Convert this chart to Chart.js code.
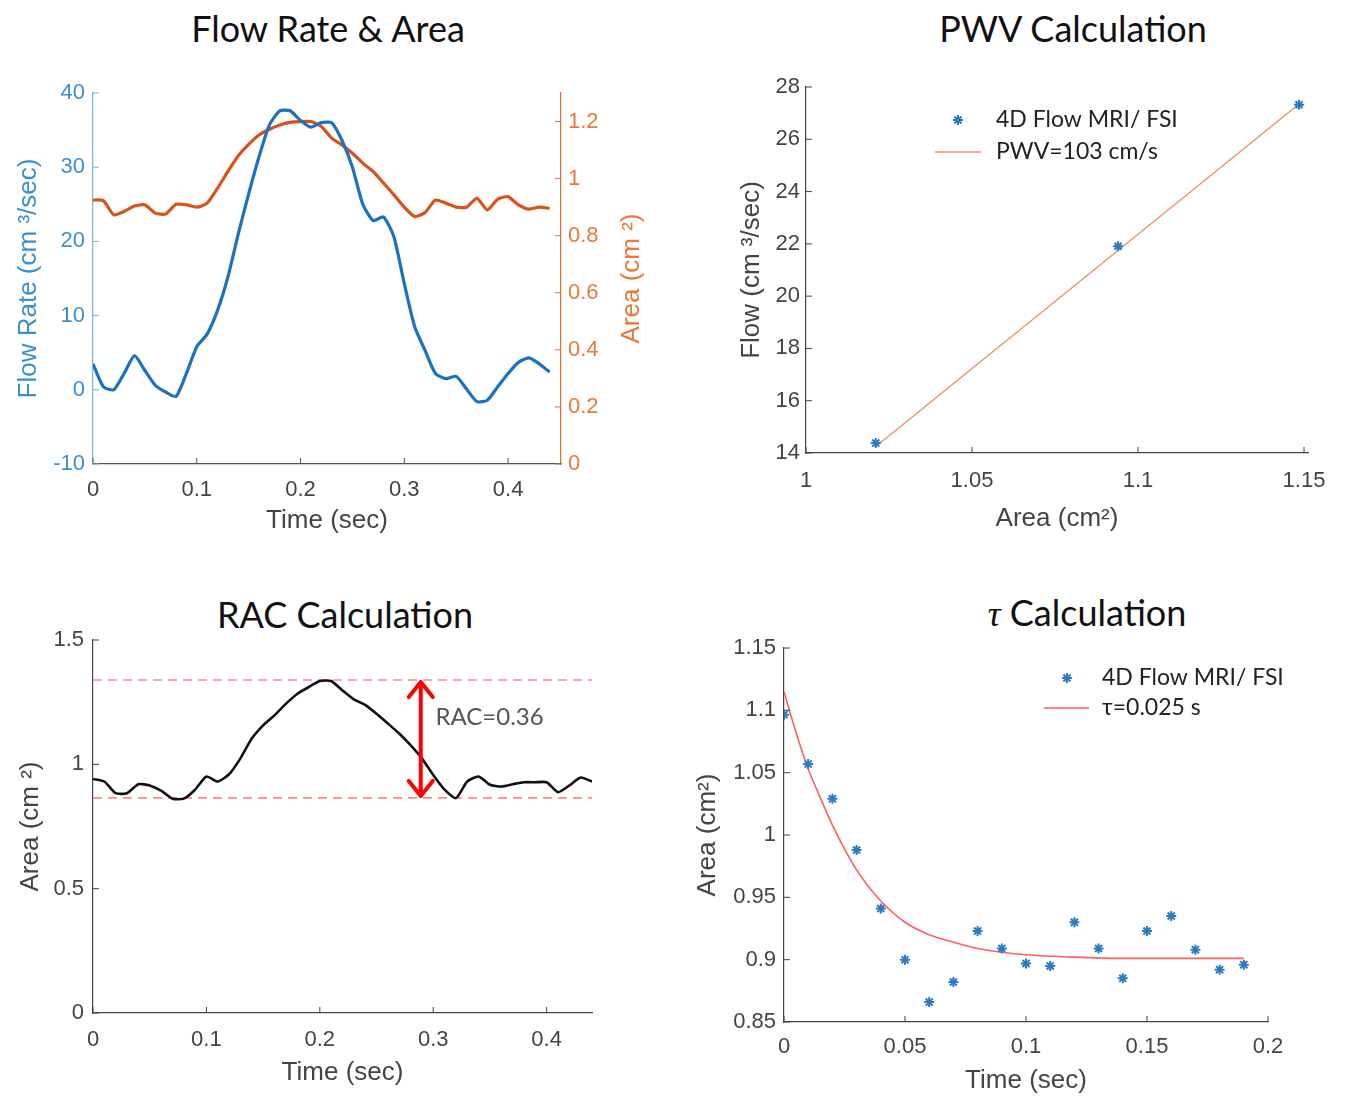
<!DOCTYPE html>
<html>
<head>
<meta charset="utf-8">
<script src="https://cdn.jsdelivr.net/npm/chart.js@4.4.1/dist/chart.umd.min.js"></script>
<style>
  body { margin: 0; background: #fff; width: 1349px; height: 1100px; position: relative; overflow: hidden; }
  canvas { position: absolute; }
  .title { position: absolute; font-family: Lato, sans-serif; font-size: 36px; color: #111; transform: translate(-50%, -50%); white-space: nowrap; }
  .tau { font-family: "Liberation Serif", serif; font-style: italic; }
</style>
</head>
<body>
<div class="title" style="left:328px;top:28px">Flow Rate &amp; Area</div>
<div class="title" style="left:1073px;top:28px">PWV Calculation</div>
<div class="title" style="left:345px;top:614px">RAC Calculation</div>
<div class="title" style="left:1087px;top:612px"><span class="tau">τ</span> Calculation</div>

<canvas id="flow" width="680" height="500" style="left:0;top:60px"></canvas>
<canvas id="pwv" width="669" height="500" style="left:680px;top:60px"></canvas>
<canvas id="rac" width="680" height="500" style="left:0;top:600px"></canvas>
<canvas id="tau" width="669" height="500" style="left:680px;top:600px"></canvas>

<script>
// time base for the flow / area waveforms (sec)
const waveTime = [0, 0.01, 0.02, 0.03, 0.04, 0.05, 0.06, 0.07, 0.08, 0.09,
  0.10, 0.11, 0.12, 0.13, 0.14, 0.15, 0.16, 0.17, 0.18, 0.19,
  0.20, 0.21, 0.22, 0.23, 0.24, 0.25, 0.26, 0.27, 0.28, 0.29,
  0.30, 0.31, 0.32, 0.33, 0.34, 0.35, 0.36, 0.37, 0.38, 0.39,
  0.40, 0.41, 0.42, 0.43, 0.44];

// flow rate (cm^3/sec)
const flowRate = [3.5, 0.4, 0, 2.2, 4.6, 2.6, 0.6, -0.3, -0.9, 2.2,
  5.8, 7.5, 10.7, 15.2, 21, 26.4, 31.4, 35.7, 37.6, 37.6,
  36.3, 35.4, 36, 36, 33.6, 30, 25, 22.8, 23.3, 20.6,
  14.3, 8.5, 5.3, 2.2, 1.5, 1.8, 0.1, -1.6, -1.4, 0.4,
  2.2, 3.7, 4.3, 3.5, 2.4];

// area (cm^2), top-left panel
const flowArea = [0.925, 0.923, 0.873, 0.885, 0.904, 0.908, 0.879, 0.876, 0.91, 0.908,
  0.90, 0.914, 0.966, 1.025, 1.08, 1.12, 1.153, 1.173, 1.188, 1.197,
  1.2, 1.2, 1.183, 1.142, 1.118, 1.089, 1.054, 1.025, 0.984, 0.943,
  0.90, 0.867, 0.881, 0.925, 0.914, 0.90, 0.90, 0.931, 0.89, 0.928,
  0.937, 0.908, 0.893, 0.90, 0.896];

// PWV panel
const pwvArea = [1.021, 1.094, 1.1485];
const pwvFlow = [14.38, 21.91, 27.32];
const pwvFitArea = [1.021, 1.1485];
const pwvFitFlow = [14.25, 27.35];

// RAC panel
const racArea = [0.941, 0.931, 0.884, 0.884, 0.92, 0.915, 0.894, 0.862, 0.862, 0.898,
  0.951, 0.931, 0.96, 1.024, 1.104, 1.157, 1.197, 1.243, 1.283, 1.31,
  1.335, 1.335, 1.297, 1.261, 1.239, 1.203, 1.164, 1.124, 1.077, 1.024,
  0.957, 0.898, 0.864, 0.931, 0.951, 0.918, 0.911, 0.92, 0.928, 0.928,
  0.928, 0.888, 0.915, 0.947, 0.931];
const racMax = 1.339;
const racMin = 0.865;
const racLevelTime = [0, 0.44];

// tau panel
const tauTime = [0, 0.01, 0.02, 0.03, 0.04, 0.05, 0.06, 0.07, 0.08, 0.09,
  0.10, 0.11, 0.12, 0.13, 0.14, 0.15, 0.16, 0.17, 0.18, 0.19];
const tauArea = [1.0965, 1.057, 1.029, 0.988, 0.941, 0.90, 0.866, 0.882, 0.923, 0.909,
  0.897, 0.895, 0.930, 0.909, 0.885, 0.923, 0.935, 0.908, 0.892, 0.896];
const tauFitTime = [0, 0.005, 0.01, 0.015, 0.02, 0.03, 0.04, 0.05, 0.06, 0.07,
  0.08, 0.09, 0.10, 0.12, 0.14, 0.16, 0.19];
const tauFitArea = [1.115, 1.082, 1.053, 1.03, 1.008, 0.972, 0.947, 0.930, 0.920, 0.914,
  0.909, 0.906, 0.904, 0.902, 0.901, 0.901, 0.901];

const xy = (xs, ys) => xs.map((x, i) => ({ x: x, y: ys[i] }));
const fmt = v => String(Math.round(v * 1000) / 1000);

const TICK_FONT = { family: 'Liberation Sans, Arial, sans-serif', size: 22 };
const TITLE_FONT = { family: 'Liberation Sans, Arial, sans-serif', size: 26 };
const GRAY = '#444';

Chart.defaults.animation = false;
Chart.defaults.plugins.legend.display = false;
Chart.defaults.plugins.tooltip.enabled = false;

// matlab style ticks pointing into the plot
const innerTicks = {
  id: 'innerTicks',
  afterDatasetsDraw(chart) {
    const ctx = chart.ctx, a = chart.chartArea;
    ctx.save();
    ctx.lineWidth = 1;
    Object.values(chart.scales).forEach(s => {
      ctx.strokeStyle = s.options.border.color || GRAY;
      s.ticks.forEach(t => {
        const p = s.getPixelForValue(t.value);
        ctx.beginPath();
        if (s.position === 'bottom') { ctx.moveTo(p, a.bottom); ctx.lineTo(p, a.bottom - 6); }
        else if (s.position === 'left') { ctx.moveTo(a.left, p); ctx.lineTo(a.left + 6, p); }
        else { ctx.moveTo(a.right, p); ctx.lineTo(a.right - 6, p); }
        ctx.stroke();
      });
    });
    ctx.restore();
  }
};

// right axis title reads bottom-to-top like matlab
const rightTitle = {
  id: 'rightTitle',
  afterDraw(chart, args, o) {
    const ctx = chart.ctx, a = chart.chartArea;
    ctx.save();
    ctx.translate(o.x, (a.top + a.bottom) / 2);
    ctx.rotate(-Math.PI / 2);
    ctx.font = TITLE_FONT.size + 'px ' + TITLE_FONT.family;
    ctx.fillStyle = o.color;
    ctx.textAlign = 'center';
    ctx.textBaseline = 'middle';
    ctx.fillText(o.text, 0, 0);
    ctx.restore();
  }
};

// small legend drawn inside the axes
const boxLegend = {
  id: 'boxLegend',
  afterDraw(chart, args, o) {
    if (!o.items) return;
    const ctx = chart.ctx;
    ctx.save();
    o.items.forEach(it => {
      const ds = chart.data.datasets[it.ds];
      ctx.strokeStyle = ds.borderColor;
      if (it.star) {
        ctx.lineWidth = 2;
        Chart.helpers.drawPoint(ctx, { pointStyle: 'star', radius: 5, rotation: 0, borderWidth: 2 }, it.mx, it.y);
      } else {
        ctx.lineWidth = 1.5;
        ctx.beginPath();
        ctx.moveTo(it.x0, it.y);
        ctx.lineTo(it.x1, it.y);
        ctx.stroke();
      }
      ctx.font = '23px Lato, sans-serif';
      ctx.fillStyle = '#222';
      ctx.textBaseline = 'middle';
      ctx.fillText(ds.label, o.textX, it.y);
    });
    ctx.restore();
  }
};

// double arrow and label for RAC
const racArrow = {
  id: 'racArrow',
  afterDatasetsDraw(chart, args, o) {
    if (o.at === undefined) return;
    const xs = chart.scales.x, ys = chart.scales.y, ctx = chart.ctx;
    const px = xs.getPixelForValue(o.at);
    const top = ys.getPixelForValue(racMax), bot = ys.getPixelForValue(racMin);
    ctx.save();
    ctx.strokeStyle = '#ff0000';
    ctx.lineWidth = 4;
    ctx.lineCap = 'round';
    ctx.lineJoin = 'round';
    ctx.beginPath();
    ctx.moveTo(px, top + 2); ctx.lineTo(px, bot - 2);
    ctx.moveTo(px - 12, top + 17); ctx.lineTo(px, top + 2); ctx.lineTo(px + 12, top + 17);
    ctx.moveTo(px - 12, bot - 17); ctx.lineTo(px, bot - 2); ctx.lineTo(px + 12, bot - 17);
    ctx.stroke();
    ctx.font = '24px Lato, sans-serif';
    ctx.fillStyle = '#555';
    ctx.textBaseline = 'middle';
    ctx.fillText(o.text, xs.getPixelForValue(o.textAt[0]), ys.getPixelForValue(o.textAt[1]));
    ctx.restore();
  }
};

function axis(opts) {
  return {
    type: 'linear',
    position: opts.position,
    min: opts.min,
    max: opts.max,
    afterFit: s => { if (opts.width) s.width = opts.width; if (opts.height) s.height = opts.height; },
    grid: { display: false, drawTicks: false },
    border: { display: true, color: opts.line || GRAY, width: 1.2 },
    ticks: {
      stepSize: opts.step,
      includeBounds: false,
      padding: opts.pad,
      color: opts.tickColor || GRAY,
      font: TICK_FONT,
      callback: fmt
    },
    title: opts.title ? {
      display: true,
      text: opts.title,
      color: opts.titleColor || GRAY,
      font: TITLE_FONT,
      padding: opts.titlePad
    } : { display: false }
  };
}

// Flow rate & area
new Chart(document.getElementById('flow'), {
  type: 'line',
  data: {
    datasets: [
      { label: 'Flow', data: xy(waveTime, flowRate), yAxisID: 'y', borderColor: '#1a72c0', borderWidth: 3.2, pointRadius: 0, tension: 0.2 },
      { label: 'Area', data: xy(waveTime, flowArea), yAxisID: 'y1', borderColor: '#d95319', borderWidth: 3.2, pointRadius: 0, tension: 0.2 }
    ]
  },
  options: {
    responsive: false,
    layout: { padding: { top: 33, left: 0, right: 0, bottom: 0 } },
    scales: {
      x: axis({ position: 'bottom', min: 0, max: 0.451, step: 0.1, height: 96, pad: 13, line: '#555',
        title: 'Time (sec)', titlePad: { top: 0, bottom: 24 } }),
      y: axis({ position: 'left', min: -10, max: 40, step: 10, width: 93, pad: 8,
        line: '#6eb2e6', tickColor: '#3b8fd3', title: 'Flow Rate (cm ³/sec)', titleColor: '#3b8fd3',
        titlePad: { top: 13, bottom: 0 } }),
      y1: axis({ position: 'right', min: 0, max: 1.3, step: 0.2, width: 119, pad: 7,
        line: '#e07030', tickColor: '#e8793a' })
    },
    plugins: { rightTitle: { x: 632, text: 'Area (cm ²)', color: '#e8793a' } }
  },
  plugins: [innerTicks, rightTitle]
});

// PWV calculation
new Chart(document.getElementById('pwv'), {
  type: 'scatter',
  data: {
    datasets: [
      { label: '4D Flow MRI/ FSI', data: xy(pwvArea, pwvFlow), borderColor: '#2b7bc4', backgroundColor: '#2b7bc4',
        pointStyle: 'star', pointRadius: 5, borderWidth: 2, showLine: false },
      { label: 'PWV=103 cm/s', data: xy(pwvFitArea, pwvFitFlow), borderColor: '#f0926a', borderWidth: 1.5,
        pointRadius: 0, showLine: true }
    ]
  },
  options: {
    responsive: false,
    layout: { padding: { top: 27, left: 0, right: 41, bottom: 0 } },
    scales: {
      x: axis({ position: 'bottom', min: 1, max: 1.1512, step: 0.05, height: 107, pad: 15,
        title: 'Area (cm²)', titlePad: { top: 0, bottom: 26 } }),
      y: axis({ position: 'left', min: 14, max: 28, step: 2, width: 126, pad: 6,
        title: 'Flow (cm ³/sec)', titlePad: { top: 56, bottom: 0 } })
    },
    plugins: {
      boxLegend: { textX: 316, items: [
        { ds: 0, star: true, mx: 278, y: 60 },
        { ds: 1, x0: 255, x1: 301, y: 92 }
      ] }
    }
  },
  plugins: [innerTicks, boxLegend]
});

// RAC calculation
new Chart(document.getElementById('rac'), {
  type: 'line',
  data: {
    datasets: [
      { label: 'Area', data: xy(waveTime, racArea), borderColor: '#111', borderWidth: 2.6, pointRadius: 0, tension: 0.2 },
      { label: 'max', data: xy(racLevelTime, [racMax, racMax]), borderColor: '#ff8a8a', borderWidth: 1.6, borderDash: [9, 6], pointRadius: 0 },
      { label: 'min', data: xy(racLevelTime, [racMin, racMin]), borderColor: '#ff8a8a', borderWidth: 1.6, borderDash: [9, 6], pointRadius: 0 }
    ]
  },
  options: {
    responsive: false,
    layout: { padding: { top: 40, left: 0, right: 88, bottom: 0 } },
    scales: {
      x: axis({ position: 'bottom', min: 0, max: 0.44, step: 0.1, height: 87, pad: 14,
        title: 'Time (sec)', titlePad: { top: 0, bottom: 12 } }),
      y: axis({ position: 'left', min: 0, max: 1.5, step: 0.5, width: 93, pad: 9,
        title: 'Area (cm ²)', titlePad: { top: 15, bottom: 0 } })
    },
    plugins: { racArrow: { at: 0.289, text: 'RAC=0.36', textAt: [0.302, 1.19] } }
  },
  plugins: [innerTicks, racArrow]
});

// tau calculation
new Chart(document.getElementById('tau'), {
  type: 'scatter',
  data: {
    datasets: [
      { label: '4D Flow MRI/ FSI', data: xy(tauTime, tauArea), borderColor: '#2b7bc4', backgroundColor: '#2b7bc4',
        pointStyle: 'star', pointRadius: 5, borderWidth: 2, showLine: false },
      { label: 'τ=0.025 s', data: xy(tauFitTime, tauFitArea), borderColor: '#ff5f5f', borderWidth: 1.6,
        pointRadius: 0, showLine: true, cubicInterpolationMode: 'monotone' }
    ]
  },
  options: {
    responsive: false,
    layout: { padding: { top: 48, left: 0, right: 81, bottom: 0 } },
    scales: {
      x: axis({ position: 'bottom', min: 0, max: 0.2, step: 0.05, height: 78, pad: 12,
        title: 'Time (sec)', titlePad: { top: 0, bottom: 4 } }),
      y: axis({ position: 'left', min: 0.85, max: 1.15, step: 0.05, width: 104, pad: 8,
        title: 'Area (cm²)', titlePad: { top: 12, bottom: 0 } })
    },
    plugins: {
      boxLegend: { textX: 422, items: [
        { ds: 0, star: true, mx: 387, y: 78 },
        { ds: 1, x0: 364, x1: 409, y: 108 }
      ] }
    }
  },
  plugins: [innerTicks, boxLegend]
});
</script>
</body>
</html>
